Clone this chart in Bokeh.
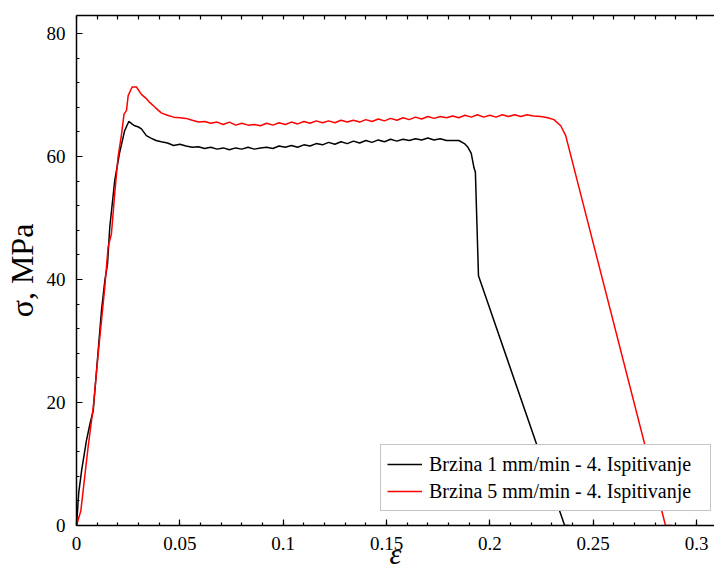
from bokeh.plotting import figure
from bokeh.models import Range1d, FixedTicker, LinearAxis
from bokeh.embed import file_html
from bokeh.resources import INLINE

# ---- data ----
eps1 = [0.0, 0.0011, 0.0025, 0.0048, 0.0065, 0.0081, 0.0097, 0.0121, 0.0137, 0.0150,
        0.0161, 0.0185, 0.0209, 0.0233, 0.0253, 0.0268, 0.0282, 0.0300, 0.0314, 0.0338,
        0.0360, 0.0385, 0.041, 0.044, 0.047, 0.050, 0.053, 0.056, 0.059, 0.062,
        0.065, 0.068, 0.071, 0.074, 0.077, 0.080, 0.083, 0.086, 0.089, 0.092,
        0.095, 0.098, 0.101, 0.104, 0.107, 0.110, 0.113, 0.116, 0.119, 0.122,
        0.125, 0.128, 0.131, 0.134, 0.137, 0.140, 0.143, 0.146, 0.149, 0.152,
        0.155, 0.158, 0.161, 0.164, 0.167, 0.170, 0.173, 0.176, 0.179, 0.182,
        0.185, 0.1877, 0.1894, 0.191, 0.1923, 0.193, 0.1945, 0.2362, 0.2385]
sig1 = [0.0, 5.4, 9.0, 13.8, 16.5, 18.7, 25.2, 35.0, 39.8, 42.5,
        48.5, 56.1, 60.7, 64.2, 65.7, 65.3, 65.0, 64.8, 64.5, 63.4,
        63.0, 62.6, 62.4, 62.2, 61.8, 62.0, 61.7, 61.5, 61.6, 61.3,
        61.5, 61.2, 61.4, 61.1, 61.4, 61.2, 61.5, 61.2, 61.4, 61.5,
        61.3, 61.7, 61.5, 61.8, 61.5, 61.9, 61.7, 62.1, 61.9, 62.3,
        62.0, 62.4, 62.1, 62.5, 62.2, 62.6, 62.3, 62.7, 62.4, 62.8,
        62.5, 62.8, 62.6, 62.9, 62.7, 63.0, 62.7, 62.9, 62.6, 62.6,
        62.6, 62.1, 61.5, 60.5, 58.2, 57.5, 40.6, 0.0, 0.0]

eps5 = [0.0, 0.0021, 0.0056, 0.0081, 0.0105, 0.0137, 0.0153, 0.0169, 0.0185, 0.0201,
        0.0217, 0.0230, 0.0242, 0.0250, 0.0269, 0.0290, 0.0314, 0.0335, 0.0354, 0.038,
        0.041, 0.044, 0.047, 0.050, 0.053, 0.056, 0.059, 0.062, 0.065, 0.068,
        0.071, 0.074, 0.077, 0.080, 0.083, 0.086, 0.089, 0.092, 0.095, 0.098,
        0.101, 0.104, 0.107, 0.110, 0.113, 0.116, 0.119, 0.122, 0.125, 0.128,
        0.131, 0.134, 0.137, 0.140, 0.143, 0.146, 0.149, 0.152, 0.155, 0.158,
        0.161, 0.164, 0.167, 0.170, 0.173, 0.176, 0.179, 0.182, 0.185, 0.188,
        0.191, 0.194, 0.197, 0.200, 0.203, 0.206, 0.209, 0.212, 0.215, 0.218,
        0.221, 0.2246, 0.228, 0.231, 0.2343, 0.2367, 0.2850, 0.2880]
sig5 = [0.0, 2.4, 12.7, 19.2, 27.9, 38.8, 45.3, 47.4, 54.0, 59.9,
        63.4, 66.9, 67.5, 69.9, 71.3, 71.3, 70.1, 69.5, 68.8, 68.0,
        67.1, 66.7, 66.4, 66.3, 66.2, 65.9, 65.6, 65.7, 65.4, 65.6,
        65.2, 65.6, 65.1, 65.4, 65.1, 65.2, 65.0, 65.4, 65.1, 65.5,
        65.2, 65.6, 65.3, 65.7, 65.4, 65.8, 65.5, 65.8, 65.5, 65.9,
        65.6, 65.9, 65.6, 66.0, 65.7, 66.1, 65.8, 66.2, 65.9, 66.3,
        66.0, 66.4, 66.1, 66.5, 66.2, 66.5, 66.3, 66.6, 66.3, 66.7,
        66.4, 66.8, 66.4, 66.7, 66.4, 66.8, 66.5, 66.8, 66.5, 66.8,
        66.6, 66.5, 66.3, 66.0, 65.0, 63.4, 0.0, 0.0]

x_ticks = [0, 0.05, 0.1, 0.15, 0.2, 0.25, 0.3]
x_tick_labels = ["0", "0.05", "0.1", "0.15", "0.2", "0.25", "0.3"]
x_minor = [i / 100 for i in range(0, 31)]
y_ticks = [0, 20, 40, 60, 80]
y_minor = list(range(0, 84, 4))

label1 = "Brzina 1 mm/min - 4. Ispitivanje"
label5 = "Brzina 5 mm/min - 4. Ispitivanje"
x_title = "ε"
y_title = "σ, MPa"

FONT = "Liberation Serif"

p = figure(width=714, height=577, output_backend="svg", toolbar_location=None,
           x_range=Range1d(0, 0.3087), y_range=Range1d(0, 82.93),
           min_border_left=75, min_border_right=0, min_border_top=15,
           min_border_bottom=52, x_axis_type=None, y_axis_type=None)
p.outline_line_color = None
p.background_fill_color = "white"
p.border_fill_color = "white"

xt = FixedTicker(ticks=x_ticks, minor_ticks=x_minor)
yt = FixedTicker(ticks=y_ticks, minor_ticks=y_minor)
top_t = FixedTicker(ticks=[], minor_ticks=x_minor)


def style_axis(ax):
    ax.axis_line_color = "black"
    ax.axis_line_width = 1.5
    ax.major_tick_line_color = "black"
    ax.minor_tick_line_color = "black"
    ax.major_tick_line_width = 1.2
    ax.minor_tick_line_width = 1.2
    ax.major_tick_in = 6
    ax.major_tick_out = 0
    ax.minor_tick_in = 3
    ax.minor_tick_out = 0
    ax.major_label_text_font = FONT
    ax.major_label_text_color = "black"
    ax.major_label_text_font_size = "19px"
    ax.major_label_standoff = 11
    ax.axis_label_text_font = FONT
    ax.axis_label_text_color = "black"


xaxis = LinearAxis(ticker=xt, major_label_overrides={v: s for v, s in zip(x_ticks, x_tick_labels)},
                   axis_label=x_title)
style_axis(xaxis)
xaxis.axis_label_text_font_size = "30px"
xaxis.axis_label_text_font_style = "italic"
xaxis.axis_label_standoff = -16
p.add_layout(xaxis, "below")

yaxis = LinearAxis(ticker=yt, axis_label=y_title)
style_axis(yaxis)
yaxis.axis_label_text_font_size = "32px"
yaxis.axis_label_text_font_style = "normal"
yaxis.axis_label_standoff = 4
p.add_layout(yaxis, "left")

top_axis = LinearAxis(ticker=top_t)
style_axis(top_axis)
top_axis.minor_tick_in = 4
top_axis.major_label_standoff = 0
p.add_layout(top_axis, "above")

p.xgrid.ticker = xt
p.ygrid.ticker = yt
for g in (p.xgrid, p.ygrid):
    g.grid_line_color = "#d4d4d4"
    g.grid_line_width = 1

p.line(eps1, sig1, line_color="black", line_width=1.5, legend_label=label1)
p.line(eps5, sig5, line_color="#ff0000", line_width=1.5, legend_label=label5)

lg = p.legend[0]
lg.location = (304, 14)
lg.margin = 0
lg.padding = 6
lg.spacing = 1
lg.glyph_width = 35
lg.glyph_height = 26
lg.label_height = 26
lg.label_width = 275
lg.label_standoff = 7
lg.label_text_font = FONT
lg.label_text_font_size = "20px"
lg.label_text_color = "black"
lg.border_line_color = "#8c8c8c"
lg.border_line_width = 1
lg.background_fill_color = "white"
lg.background_fill_alpha = 1.0

open("out.html", "w").write(file_html(p, INLINE))
